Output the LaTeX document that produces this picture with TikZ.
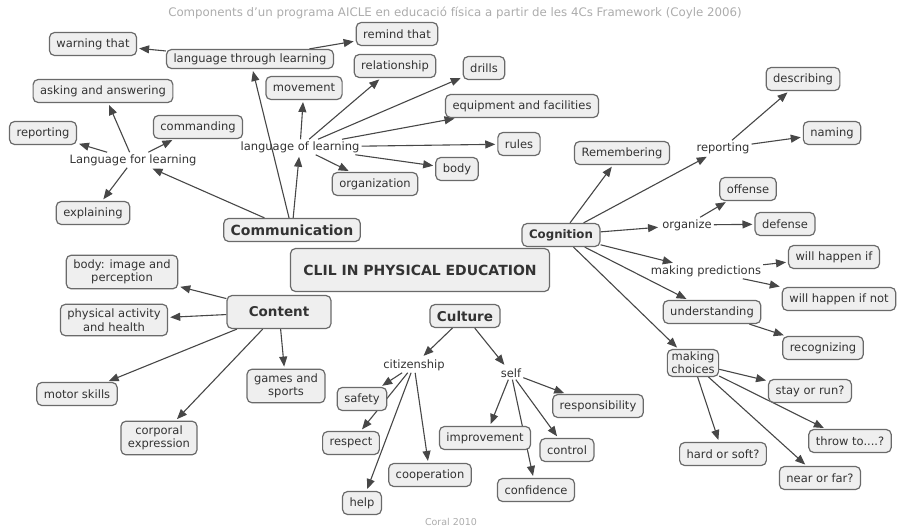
\documentclass[tikz,border=0pt]{standalone}
\usepackage{fontspec}
\setmainfont{DejaVu Sans}
\usetikzlibrary{arrows.meta,backgrounds}
\definecolor{boxfill}{HTML}{EFEFEF}
\definecolor{boxline}{HTML}{6A6A6A}
\definecolor{ink}{HTML}{333333}
\tikzset{
  box/.style={draw=boxline, fill=boxfill, line width=1.2pt, rounded corners=5pt,
    inner xsep=7pt, inner ysep=3pt, minimum height=23pt, text=ink,
    font=\fontsize{11.5}{13}\selectfont, align=center},
  twobox/.style={box, inner ysep=4.5pt, font=\fontsize{11.5}{13.5}\selectfont},
  bigbox/.style={box, font=\fontsize{13.5}{15}\selectfont\bfseries},
  word/.style={inner sep=2pt, text=ink, font=\fontsize{11.5}{13}\selectfont},
  conn/.style={draw=ink!90, line width=1.1pt, -{Triangle[length=10pt,width=8pt]}, shorten >=2pt}
}
\begin{document}
\begin{tikzpicture}[x=1pt,y=-1pt]
	\useasboundingbox (0,0) rectangle (899,530);
	\node[text=gray!65, font=\fontsize{11.8}{13}\selectfont] (title) at (455,13)
		{Components d'un programa AICLE en educació física a partir de les 4Cs Framework (Coyle 2006)};
	\node[text=gray!65, font=\fontsize{9.5}{11}\selectfont] (foot) at (451,522) {Coral 2010};
	% centre
	\node[box, minimum height=43pt, minimum width=259pt, font=\fontsize{14}{16}\selectfont\bfseries] (clil) at (420,270) {CLIL IN PHYSICAL EDUCATION};
	% communication
	\node[bigbox, font=\fontsize{14}{16}\selectfont\bfseries] (comm) at (292,230) {Communication};
	\node[word] (lfl) at (133,160) {Language for learning};
	\node[box, minimum height=19pt, inner ysep=1pt] (ltl) at (250,59) {language through learning};
	\node[word] (lol) at (300,147) {language of learning};
	\node[box] (warn) at (93,44) {warning that};
	\node[box] (remind) at (397,34) {remind that};
	\node[box] (relat) at (395,66) {relationship};
	\node[box] (move) at (304,88) {movement};
	\node[box] (drills) at (484,68) {drills};
	\node[box] (equip) at (522,106) {equipment and facilities};
	\node[box] (rules) at (519,144) {rules};
	\node[box] (lbody) at (457,169) {body};
	\node[box] (organiz) at (375,184) {organization};
	\node[box] (ask) at (103,91) {asking and answering};
	\node[box] (lrep) at (43,133) {reporting};
	\node[box] (command) at (198,127) {commanding};
	\node[box] (explain) at (93,213) {explaining};
	% cognition
	\node[box, font=\fontsize{11.8}{13}\selectfont\bfseries] (cogn) at (561,235) {Cognition};
	\node[box] (remem) at (622,153) {Remembering};
	\node[word] (crep) at (723,148) {reporting};
	\node[box] (descr) at (803,79) {describing};
	\node[box] (naming) at (832,133) {naming};
	\node[word] (orgz) at (687,225) {organize};
	\node[box] (offense) at (748,189) {offense};
	\node[box] (defense) at (785,224) {defense};
	\node[word] (predict) at (706,271) {making predictions};
	\node[box] (hapif) at (834,257) {will happen if};
	\node[box] (hapnot) at (839,299) {will happen if not};
	\node[box] (underst) at (712,312) {understanding};
	\node[box] (recog) at (823,348) {recognizing};
	\node[box, inner xsep=4pt, inner ysep=2.5pt] (choices) at (693,363) {making\\choices};
	\node[box] (stay) at (810,391) {stay or run?};
	\node[box] (throw) at (850,441) {throw to....?};
	\node[box] (hard) at (723,454) {hard or soft?};
	\node[box] (near) at (820,478) {near or far?};
	% content
	\node[bigbox, minimum width=104pt, minimum height=33pt] (cont) at (279,312) {Content};
	\node[twobox] (image) at (122,272) {body: image and\\perception};
	\node[twobox] (health) at (114,320) {physical activity\\and health};
	\node[box] (motor) at (77,394) {motor skills};
	\node[twobox] (corp) at (159,438) {corporal\\expression};
	\node[twobox] (games) at (286,386) {games and\\sports};
	% culture
	\node[box, font=\fontsize{13.5}{15}\selectfont\bfseries] (cult) at (465,316) {Culture};
	\node[word] (citiz) at (414,365) {citizenship};
	\node[word] (self) at (511,373) {self};
	\node[box] (safety) at (362,399) {safety};
	\node[box] (respect) at (351,443) {respect};
	\node[box] (help) at (362,503) {help};
	\node[box] (coop) at (430,475) {cooperation};
	\node[box] (improv) at (485,438) {improvement};
	\node[box] (control) at (567,450) {control};
	\node[box] (respons) at (598,406) {responsibility};
	\node[box] (confid) at (536,490) {confidence};
	% connectors
	\begin{scope}[on background layer]
	\foreach \a/\b in {comm/lfl, comm/ltl, comm/lol,
		lfl/lrep, lfl/ask, lfl/command, lfl/explain,
		ltl/warn, ltl/remind,
		lol/move, lol/relat, lol/drills, lol/equip, lol/rules, lol/lbody, lol/organiz,
		cogn/remem, cogn/crep, cogn/orgz, cogn/predict, cogn/underst, cogn/choices,
		crep/descr, crep/naming, orgz/offense, orgz/defense,
		predict/hapif, predict/hapnot, underst/recog,
		choices/stay, choices/throw, choices/hard, choices/near,
		cont/image, cont/health, cont/motor, cont/corp, cont/games,
		cult/citiz, cult/self,
		citiz/safety, citiz/respect, citiz/help, citiz/coop,
		self/improv, self/confid, self/control, self/respons}
		\draw[conn] (\a) -- (\b);
	\end{scope}
\end{tikzpicture}
\end{document}
